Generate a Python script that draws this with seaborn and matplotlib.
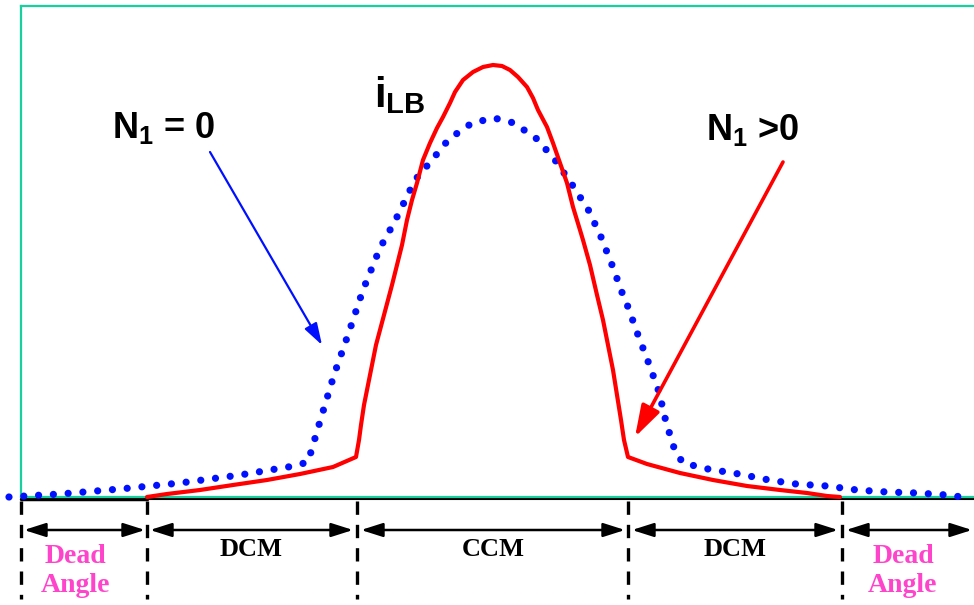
import matplotlib
matplotlib.use("Agg")
import matplotlib.pyplot as plt
import seaborn as sns
import pandas as pd

sns.set_theme(style="white")
plt.rcParams['font.family'] = ['Liberation Sans', 'DejaVu Sans']
plt.rcParams['text.color'] = 'black'
plt.rcParams['mathtext.fontset'] = 'custom'
plt.rcParams['mathtext.rm'] = 'Liberation Sans:bold'
plt.rcParams['mathtext.it'] = 'Liberation Sans:bold'
plt.rcParams['mathtext.bf'] = 'Liberation Sans:bold'

# ---- data (angle position, current magnitude) ----
blue_angle = [9, 60, 120, 180, 240, 294, 308, 321, 334, 349, 363, 380, 395, 415, 432, 449,
              472, 494, 514, 537, 555, 573, 589, 601, 614, 621, 628, 638, 649, 659, 666,
              675, 683, 708, 739, 769, 796, 827, 857, 887, 917, 947, 962]
blue_current = [0, 3, 8, 14, 22, 31, 35, 79, 122, 165, 207, 249, 276, 317, 337, 358,
                374, 379, 374, 358, 337, 311, 286, 260, 227, 207, 190, 162, 133, 105, 75,
                46, 34, 28, 23, 17, 13, 11, 7, 5, 4, 2, 0]

red_angle = [147, 167, 200, 233, 267, 300, 333, 356,
             359, 361, 364, 368, 372, 376, 380, 384, 388, 392, 397, 402,
             407, 412, 417, 423, 430, 437, 443, 450, 455, 463, 473, 483, 493, 502,
             510, 518, 527, 533, 538, 547, 553, 560, 567, 573, 580, 583,
             590, 597, 603, 608, 613, 617, 621, 624, 628,
             647, 680, 713, 747, 780, 807, 827, 840]
red_current = [0, 3, 7, 12, 17, 23, 30, 40,
               57, 72, 92, 112, 132, 152, 167, 182, 197, 212, 232, 252,
               277, 297, 314, 337, 354, 369, 380, 394, 405, 417, 425, 430, 432, 431,
               427, 420, 410, 399, 387, 370, 354, 334, 314, 290, 267, 257,
               232, 202, 177, 152, 127, 102, 77, 57, 40,
               33, 24, 17, 11, 7, 4, 1, 0]

# region boundaries and labels
boundaries = [21, 147, 357, 628, 842]
region_spans = [(24, 145), (150, 353), (361, 625), (632, 838), (846, 972)]
region_labels = ["Dead\nAngle", "DCM", "CCM", "DCM", "Dead\nAngle"]
region_colors = ["#ff44cc", "black", "black", "black", "#ff44cc"]

blue_df = pd.DataFrame({"angle": blue_angle, "current": blue_current})
red_df = pd.DataFrame({"angle": red_angle, "current": red_current})

fig = plt.figure(figsize=(9.74, 6.05), dpi=100)
ax = fig.add_axes([21 / 974, 108 / 605, 953 / 974, 491 / 605])
ax.set_xlim(21, 974)
ax.set_ylim(0, 491)

teal = "#18cf9e"
# black axis line below the frame
ax.plot([21, 974], [-2, -2], color="black", lw=1.5, clip_on=False, zorder=1)
ax.plot([21, 147], [-1.5, -1.5], color="black", lw=2.5, clip_on=False, zorder=1)

sns.lineplot(data=blue_df, x="angle", y="current", sort=False, ax=ax, color="#0010ff",
             lw=5.2, linestyle=(0, (0.001, 2.05)), dash_capstyle="round", clip_on=False,
             zorder=3)
sns.lineplot(data=red_df, x="angle", y="current", sort=False, ax=ax, color="#ff0000",
             lw=3.0, clip_on=False, zorder=4)

for s in ["left", "top", "bottom"]:
    ax.spines[s].set_color(teal)
    ax.spines[s].set_linewidth(1.6)
    ax.spines[s].set_zorder(2)
ax.spines["right"].set_visible(False)
ax.set_xticks([])
ax.set_yticks([])
ax.set_xlabel("")
ax.set_ylabel("")

# labels on the plot
ax.text(112, 359, r"N$_{1}$ = 0", fontsize=26, fontweight="bold", color="black",
        ha="left", va="baseline")
ax.text(706, 357, r"N$_{1}$ >0", fontsize=26, fontweight="bold", color="black",
        ha="left", va="baseline")
ax.text(374, 390, r"i$_{LB}$", fontsize=30, fontweight="bold", color="black",
        ha="left", va="baseline")

ax.annotate("", xy=(322, 152), xytext=(210, 345),
            arrowprops=dict(arrowstyle="-|>,head_length=1.1,head_width=0.35",
                            color="#0010ff", lw=1.6, shrinkA=0, shrinkB=0))
ax.annotate("", xy=(635, 60), xytext=(783, 335),
            arrowprops=dict(arrowstyle="-|>,head_length=1.6,head_width=0.5",
                            color="#ff0000", lw=2.6, shrinkA=0, shrinkB=0))

# region markers below axis
for b in boundaries:
    ax.plot([b, b], [-4, -102], color="black", lw=2.4, ls=(0, (4, 3)), clip_on=False)

for (a, b), lab, col in zip(region_spans, region_labels, region_colors):
    ax.annotate("", xy=(a, -33), xytext=(b, -33), annotation_clip=False,
                arrowprops=dict(arrowstyle="<|-|>,head_length=1.1,head_width=0.35",
                                color="black", lw=1.8, shrinkA=0, shrinkB=0))
    cx = (a + b) / 2
    if "Angle" in lab:
        ax.text(cx - 9 if a < 100 else cx - 6, -74, lab, fontsize=20, fontweight="bold",
                family="Liberation Serif", color=col, ha="center", va="center",
                linespacing=1.25, clip_on=False)
    else:
        ax.text(cx, -53, lab, fontsize=19, fontweight="bold", family="Liberation Serif",
                color=col, ha="center", va="center", clip_on=False)

fig.savefig("out.png", dpi=100)
